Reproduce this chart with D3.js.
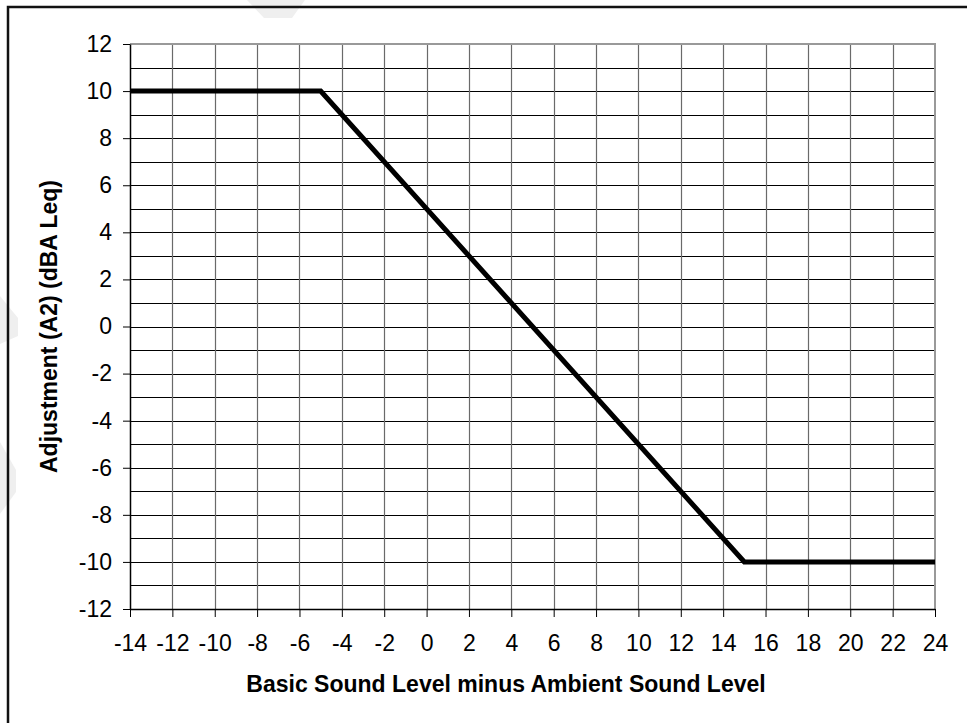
<!DOCTYPE html>
<html>
<head>
<meta charset="utf-8">
<script src="https://cdn.jsdelivr.net/npm/d3@7/dist/d3.min.js"></script>
<style>
  html, body { margin: 0; padding: 0; background: #fff; }
  svg { display: block; }
  text { font-family: "Liberation Sans", Arial, sans-serif; fill: #000; }
</style>
</head>
<body>
<svg id="chart" width="967" height="723"></svg>
<script>
// Adjustment A2 as a function of (basic - ambient) sound level
const xValues = [-14, -5, 15, 24];
const yValues = [10, 10, -10, -10];

const xTicks = [-14, -12, -10, -8, -6, -4, -2, 0, 2, 4, 6, 8, 10, 12, 14, 16, 18, 20, 22, 24];
const yTicks = [-12, -10, -8, -6, -4, -2, 0, 2, 4, 6, 8, 10, 12];
const yMinorGrid = [-11, -9, -7, -5, -3, -1, 1, 3, 5, 7, 9, 11];

const xTitle = "Basic Sound Level minus Ambient Sound Level";
const yTitle = "Adjustment (A2) (dBA Leq)";

const W = 967, H = 723;
const plot = { left: 130, right: 935, top: 44, bottom: 609 };
const FONT = 23;

const svg = d3.select("#chart");

// faint background watermark strokes
const wm = svg.append("g").attr("fill", "#efefef");
[
  [[247, 0], [305, 0], [292, 18], [264, 18]],
  [[0, 296], [18, 318], [18, 336], [0, 344]],
  [[0, 442], [16, 470], [16, 492], [0, 514]]
].forEach(p => wm.append("polygon").attr("points", p.map(d => d.join(",")).join(" ")));

// outer frame (runs off the right and bottom edges)
svg.append("rect")
  .attr("x", 8).attr("y", 7)
  .attr("width", W + 20).attr("height", H + 20)
  .attr("fill", "none")
  .attr("stroke", "#111")
  .attr("stroke-width", 2.5);

const x = d3.scaleLinear().domain([-14, 24]).range([plot.left, plot.right]);
const y = d3.scaleLinear().domain([-12, 12]).range([plot.bottom, plot.top]);

// plot area
svg.append("rect")
  .attr("x", plot.left).attr("y", plot.top)
  .attr("width", plot.right - plot.left).attr("height", plot.bottom - plot.top)
  .attr("fill", "#fff");

// horizontal grid every unit
svg.append("g")
  .selectAll("line")
  .data(yTicks.concat(yMinorGrid).filter(v => v > -12 && v < 12))
  .join("line")
  .attr("x1", plot.left).attr("x2", plot.right)
  .attr("y1", d => Math.round(y(d)) + 0.5).attr("y2", d => Math.round(y(d)) + 0.5)
  .attr("stroke", "#000").attr("stroke-width", 1);

// vertical grid at each x tick
svg.append("g")
  .selectAll("line")
  .data(xTicks.filter(v => v > -14 && v < 24))
  .join("line")
  .attr("x1", d => Math.round(x(d)) + 0.5).attr("x2", d => Math.round(x(d)) + 0.5)
  .attr("y1", plot.top).attr("y2", plot.bottom)
  .attr("stroke", "#6a6a6a").attr("stroke-width", 1.2);

// top and right plot border
svg.append("path")
  .attr("d", `M${plot.left},${plot.top}H${plot.right}V${plot.bottom}`)
  .attr("fill", "none")
  .attr("stroke", "#999")
  .attr("stroke-width", 2);

// the A2 curve
const line = d3.line().x(d => x(d[0])).y(d => y(d[1]));
svg.append("path")
  .datum(xValues.map((v, i) => [v, yValues[i]]))
  .attr("d", line)
  .attr("fill", "none")
  .attr("stroke", "#000")
  .attr("stroke-width", 5)
  .attr("stroke-linejoin", "miter");

// axes
const xAxis = svg.append("g")
  .attr("transform", `translate(0,${plot.bottom})`)
  .call(d3.axisBottom(x).tickValues(xTicks).tickSize(8).tickPadding(18).tickSizeOuter(0)
    .tickFormat(d3.format("d")));
const yAxis = svg.append("g")
  .attr("transform", `translate(${plot.left},0)`)
  .call(d3.axisLeft(y).tickValues(yTicks).tickSize(7).tickPadding(11).tickSizeOuter(0)
    .tickFormat(d3.format("d")));

[xAxis, yAxis].forEach(a => {
  a.select(".domain").attr("stroke", "#000").attr("stroke-width", 1.5);
  a.selectAll(".tick line").attr("stroke", "#000").attr("stroke-width", 1);
  a.selectAll(".tick text")
    .attr("font-family", "Liberation Sans, Arial, sans-serif")
    .attr("font-size", FONT)
    .attr("fill", "#000");
});
// plain hyphen for negatives
[xAxis, yAxis].forEach(a => a.selectAll(".tick text").text(d => String(d).replace("\u2212", "-")));

// axis titles
svg.append("text")
  .attr("x", 506)
  .attr("y", 692)
  .attr("text-anchor", "middle")
  .attr("font-size", FONT)
  .attr("font-weight", "bold")
  .text(xTitle);

svg.append("text")
  .attr("transform", `translate(57,${(plot.top + plot.bottom) / 2}) rotate(-90)`)
  .attr("text-anchor", "middle")
  .attr("font-size", FONT)
  .attr("font-weight", "bold")
  .text(yTitle);
</script>
</body>
</html>
